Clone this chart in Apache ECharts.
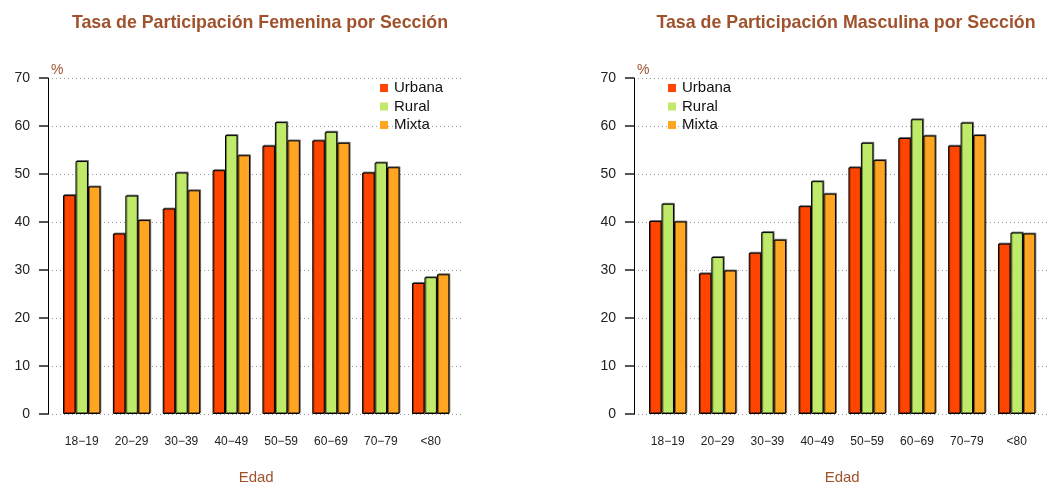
<!DOCTYPE html>
<html>
<head>
<meta charset="utf-8">
<script src="https://cdn.jsdelivr.net/npm/echarts@6/dist/echarts.min.js"></script>
<style>
  html, body { margin: 0; padding: 0; background: #fff; }
</style>
</head>
<body>
<div id="main" style="width: 1048px;height:491px;"></div>
<script>
const ages = ['18−19', '20−29', '30−39', '40−49', '50−59', '60−69', '70−79', '<80']
const yTicks = [0, 10, 20, 30, 40, 50, 60, 70]
const secciones = ['Urbana', 'Rural', 'Mixta']
const colores = ['#FF4500', '#C0EB6A', '#FFA522']

// Femenina
const femUrbana = [45.6, 37.6, 42.8, 50.8, 55.9, 57.0, 50.3, 27.3]
const femRural = [52.7, 45.5, 50.3, 58.1, 60.8, 58.8, 52.4, 28.5]
const femMixta = [47.4, 40.4, 46.6, 53.9, 57.0, 56.5, 51.4, 29.1]
// Masculina
const mascUrbana = [40.2, 29.3, 33.6, 43.3, 51.4, 57.5, 55.9, 35.5]
const mascRural = [43.8, 32.7, 37.9, 48.5, 56.5, 61.4, 60.7, 37.8]
const mascMixta = [40.1, 29.9, 36.3, 45.9, 52.9, 58.0, 58.1, 37.6]

const font = 'Liberation Sans, Arial, sans-serif'
const sienna = '#A0522D'

const myChart = echarts.init(document.getElementById('main'))

// axis frame (y axis, dotted grid) for one panel
const frameY = (gi) => ({
  gridIndex: gi,
  type: 'value',
  min: yTicks[0],
  max: yTicks[yTicks.length - 1],
  interval: 10,
  name: '%',
  nameLocation: 'end',
  nameGap: 8,
  nameTextStyle: { color: sienna, fontSize: 14, fontFamily: font, align: 'left', verticalAlign: 'middle', padding: [0, 0, 0, 3] },
  axisLine: { show: true, lineStyle: { color: '#000', width: 1 } },
  axisTick: { show: true, length: 9, lineStyle: { color: '#555', width: 2 } },
  axisLabel: { color: '#222', fontSize: 14, fontFamily: font, margin: 18 },
  splitLine: { show: true, lineStyle: { color: '#999', width: 1, type: [1, 3] } }
})
const hiddenY = (gi) => ({ gridIndex: gi, type: 'value', min: 0, max: 70, show: false })
const hiddenX = (gi) => ({ gridIndex: gi, type: 'value', min: 0, max: 1, show: false })
const catX = (gi) => ({
  gridIndex: gi,
  type: 'category',
  data: ages,
  name: 'Edad',
  nameLocation: 'middle',
  nameGap: 64,
  nameTextStyle: { color: sienna, fontSize: 15, fontFamily: font, verticalAlign: 'middle' },
  axisLine: { show: false },
  axisTick: { show: false },
  axisLabel: { color: '#222', fontSize: 12, fontFamily: font, margin: 22, interval: 0 }
})

const barSeries = (name, idx, data, axisIdx) => ({
  name: name,
  type: 'bar',
  xAxisIndex: axisIdx,
  yAxisIndex: axisIdx,
  data: data,
  barGap: '0%',
  barCategoryGap: '25%',
  itemStyle: {
    color: colores[idx],
    borderColor: '#000',
    borderWidth: 1,
    shadowColor: 'rgba(0,0,0,0.45)',
    shadowOffsetX: 1,
    shadowOffsetY: -1,
    shadowBlur: 0
  }
})

const legendOf = (left) => ({
  data: secciones,
  orient: 'vertical',
  left: left,
  top: 75,
  icon: 'rect',
  itemWidth: 8,
  itemHeight: 8,
  itemGap: 2.5,
  itemStyle: { borderWidth: 0, shadowColor: 'transparent' },
  textStyle: { color: '#111', fontSize: 15, fontFamily: font, lineHeight: 16, padding: [0, 0, 0, 1] }
})

const option = {
  animation: false,
  color: colores,
  title: [
    { text: 'Tasa de Participación Femenina por Sección', left: 255, top: 9, textAlign: 'center',
      textStyle: { color: sienna, fontSize: 17.8, fontWeight: 'bold', fontFamily: font } },
    { text: 'Tasa de Participación Masculina por Sección', left: 841, top: 9, textAlign: 'center',
      textStyle: { color: sienna, fontSize: 17.8, fontWeight: 'bold', fontFamily: font } }
  ],
  legend: [legendOf(375), legendOf(663)],
  grid: [
    { left: 48, top: 78, width: 414, height: 336 },
    { left: 56.8, top: 78, width: 398.8, height: 336 },
    { left: 634, top: 78, width: 414, height: 336 },
    { left: 642.8, top: 78, width: 398.8, height: 336 }
  ],
  xAxis: [hiddenX(0), catX(1), hiddenX(2), catX(3)],
  yAxis: [frameY(0), hiddenY(1), frameY(2), hiddenY(3)],
  series: [
    barSeries('Urbana', 0, femUrbana, 1),
    barSeries('Rural', 1, femRural, 1),
    barSeries('Mixta', 2, femMixta, 1),
    barSeries('Urbana', 0, mascUrbana, 3),
    barSeries('Rural', 1, mascRural, 3),
    barSeries('Mixta', 2, mascMixta, 3)
  ]
}
myChart.setOption(option)
</script>
</body>
</html>
